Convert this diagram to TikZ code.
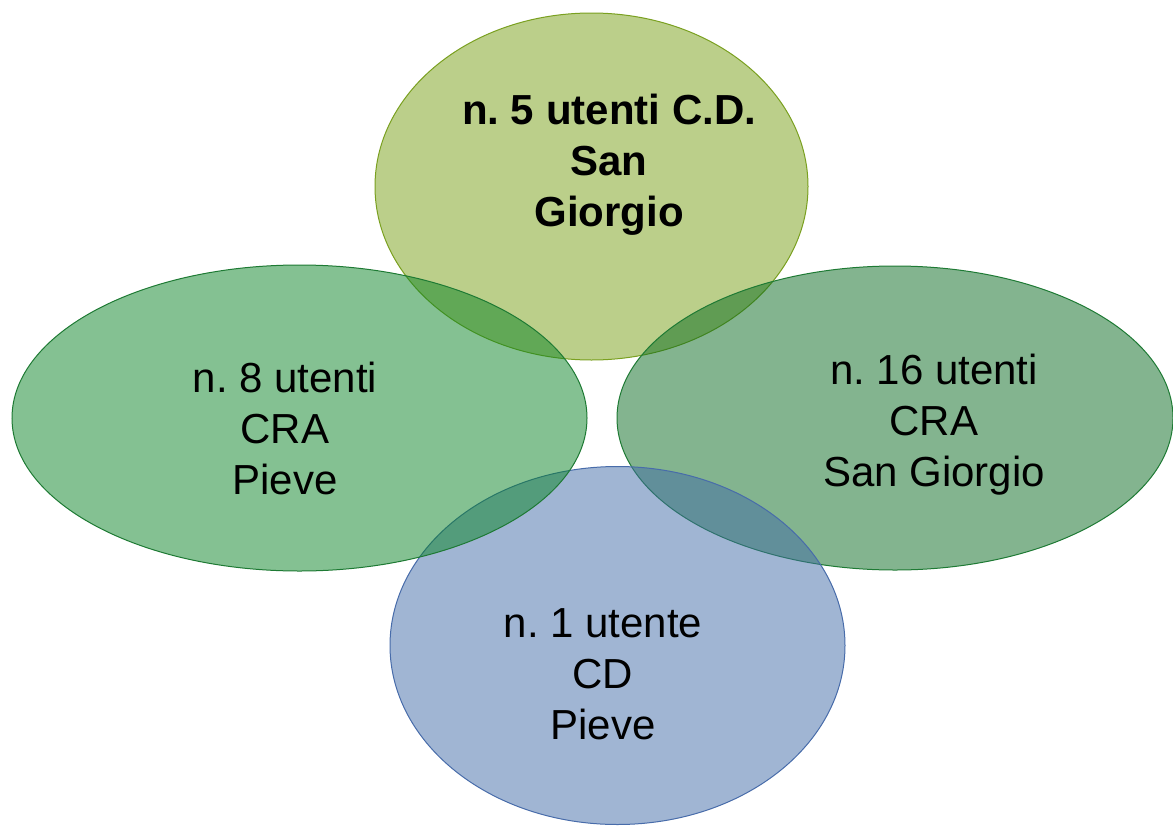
\documentclass[tikz,border=0pt]{standalone}
\usepackage{fontspec}
\setmainfont{Liberation Sans}
\usetikzlibrary{positioning}
\frenchspacing

\definecolor{cdsgfill}{RGB}{119,159,21}
\definecolor{cdsgline}{RGB}{122,160,32}
\definecolor{crapfill}{RGB}{9,131,37}
\definecolor{crasgfill}{RGB}{7,105,31}
\definecolor{craline}{RGB}{30,122,52}
\definecolor{cdpfill}{RGB}{65,107,167}
\definecolor{cdpline}{RGB}{72,108,170}

\tikzset{
  petal/.style={fill opacity=0.5,line width=1pt},
  lbl/.style={align=center,font=\fontsize{42}{51}\selectfont}
}

\begin{document}
\begin{tikzpicture}[x=1pt,y=-1pt]
\useasboundingbox (0,0) rectangle (1173,825);

% the four sets, back to front
\foreach \c/\l/\x/\y/\rx/\ry in {cdsgfill/cdsgline/591.5/186.5/216.5/173.5,
	crasgfill/craline/895/418/278/152,
	cdpfill/cdpline/617.5/645.5/227.5/179,
	crapfill/craline/299.5/418/287.5/153}{
	\draw[petal,fill=\c,draw=\l](\x,\y)ellipse[x radius=\rx pt,y radius=\ry pt];
}

\node[lbl,font=\fontsize{42}{51}\selectfont\bfseries] (cdsg) at (609,165) {n. 5 utenti C.D.\\San\\Giorgio};
\node[lbl] (crap) at (285,428.5) {n. 8 utenti\\CRA\\Pieve};
\node[lbl] (crasg) at (934,425) {n. 16 utenti\\CRA\\San Giorgio};
\node[lbl] (cdp) at (603,674) {n. 1 utente\\CD\\Pieve};

\end{tikzpicture}
\end{document}
